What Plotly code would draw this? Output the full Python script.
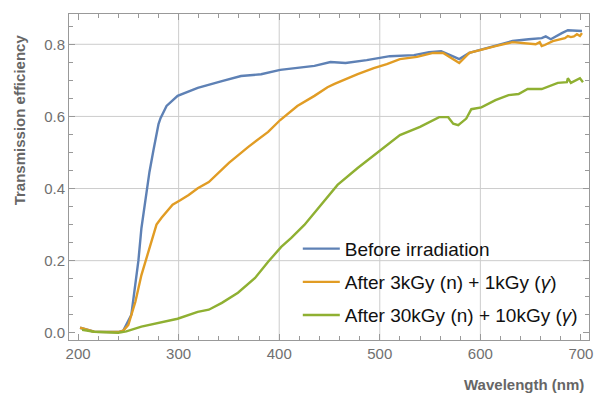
import plotly.graph_objects as go

# Wavelength (nm) and transmission efficiency for each series
wl_before = [202, 216, 240, 245, 253, 260, 263, 268, 271, 275, 280, 282, 288, 299, 310, 319, 343, 362, 382, 401,
             435, 451, 466, 487, 510, 534, 549, 561, 574, 579, 589, 599, 615, 632, 648, 661, 665, 670, 681, 687, 701]
tr_before = [0.014, 0.003, 0.002, 0.006, 0.05, 0.2, 0.29, 0.396, 0.446, 0.507, 0.579, 0.595, 0.629, 0.657, 0.668,
             0.679, 0.698, 0.712, 0.717, 0.729, 0.740, 0.751, 0.748, 0.756, 0.767, 0.770, 0.778, 0.781, 0.765,
             0.759, 0.776, 0.784, 0.795, 0.809, 0.814, 0.817, 0.822, 0.814, 0.831, 0.839, 0.837]

wl_3k = [202, 216, 240, 245, 250, 257, 263, 267, 278, 283, 294, 302, 310, 319, 330, 350, 369, 389, 401, 418, 435,
         448, 455, 478, 494, 507, 520, 537, 553, 563, 576, 579, 589, 599, 615, 632, 648, 655, 659, 661, 664, 672,
         684, 687, 690, 693, 696, 699, 701]
tr_3k = [0.014, 0.003, 0.002, 0.006, 0.022, 0.086, 0.16, 0.197, 0.3, 0.319, 0.355, 0.368, 0.382, 0.401, 0.418,
         0.471, 0.515, 0.557, 0.59, 0.629, 0.657, 0.681, 0.69, 0.717, 0.734, 0.745, 0.759, 0.765, 0.776, 0.776,
         0.753, 0.748, 0.776, 0.784, 0.795, 0.806, 0.803, 0.800, 0.806, 0.795, 0.798, 0.809, 0.817, 0.823, 0.820,
         0.822, 0.828, 0.823, 0.831]

wl_30k = [204, 216, 240, 248, 263, 280, 299, 319, 330, 343, 359, 376, 389, 402, 412, 425, 448, 458, 478, 497, 520,
          540, 559, 568, 573, 578, 586, 591, 601, 615, 628, 638, 647, 661, 677, 686, 687, 690, 699, 702]
tr_30k = [0.008, 0.003, 0.0, 0.004, 0.017, 0.028, 0.039, 0.058, 0.064, 0.083, 0.111, 0.152, 0.197, 0.238, 0.263,
          0.299, 0.377, 0.41, 0.457, 0.499, 0.548, 0.571, 0.598, 0.598, 0.58, 0.576, 0.594, 0.62, 0.625, 0.645,
          0.659, 0.662, 0.676, 0.676, 0.693, 0.695, 0.706, 0.693, 0.706, 0.695]

series_names = ["Before irradiation", "After 3kGy (n) + 1kGy (<i>\u03b3</i>)", "After 30kGy (n) + 10kGy (<i>\u03b3</i>)"]
colors = ["#5E81B5", "#E19C24", "#8FB032"]

x_grid = [300, 400, 500, 600]
y_grid = [0.2, 0.4, 0.6, 0.8]
x_range = [191, 708]
y_range = [-0.02, 0.884]

fig = go.Figure()
for i, (xs, ys) in enumerate([(wl_before, tr_before), (wl_3k, tr_3k), (wl_30k, tr_30k)]):
    fig.add_trace(go.Scatter(x=xs, y=ys, mode="lines", name=series_names[i],
                             legendgroup=f"g{i}",
                             line=dict(color=colors[i], width=2.4)))

shapes = []
for gx in x_grid:
    shapes.append(dict(type="line", xref="x", yref="paper", x0=gx, x1=gx, y0=0, y1=1,
                       line=dict(color="#cccccc", width=1), layer="below"))
for gy in y_grid:
    shapes.append(dict(type="line", xref="paper", yref="y", x0=0, x1=1, y0=gy, y1=gy,
                       line=dict(color="#cccccc", width=1), layer="below"))

axis_common = dict(showline=True, linecolor="#999999", linewidth=1, mirror="ticks",
                   ticks="inside", ticklen=6, tickcolor="#999999", showgrid=False, zeroline=False,
                   ticklabeloverflow="allow",
                   tickfont=dict(family="Liberation Sans, Arial", size=15, color="#707070"))

fig.update_layout(
    width=596, height=395,
    margin=dict(l=69, r=3, t=14, b=55),
    plot_bgcolor="white", paper_bgcolor="white",
    shapes=shapes,
    xaxis=dict(range=x_range, tick0=200, dtick=100,
               minor=dict(dtick=20, ticks="inside", ticklen=4, tickcolor="#999999"),
               **axis_common),
    yaxis=dict(range=y_range, tick0=0, dtick=0.2, tickformat=".1f",
               minor=dict(dtick=0.05, ticks="inside", ticklen=4, tickcolor="#999999"),
               **axis_common),
    legend=dict(x=0.44, y=0.338, xanchor="left", yanchor="top", bgcolor="rgba(0,0,0,0)",
                font=dict(family="Liberation Sans, Arial", size=19, color="#111111"),
                tracegroupgap=5.5, itemwidth=37),
    showlegend=True,
    annotations=[
        dict(text="<b>Transmission efficiency</b>", xref="paper", yref="paper",
             x=-0.0935, y=0.675, xanchor="center", yanchor="middle", textangle=-90, showarrow=False,
             font=dict(family="Liberation Sans, Arial", size=15, color="#666666")),
        dict(text="<b>Wavelength (nm)</b>", xref="paper", yref="paper",
             x=0.995, y=-0.135, xanchor="right", yanchor="middle", showarrow=False,
             font=dict(family="Liberation Sans, Arial", size=15, color="#666666")),
    ],
)

fig.write_html("out.html", config={"displayModeBar": False},
               post_script="document.body.style.margin='0';document.body.style.overflow='hidden';")
